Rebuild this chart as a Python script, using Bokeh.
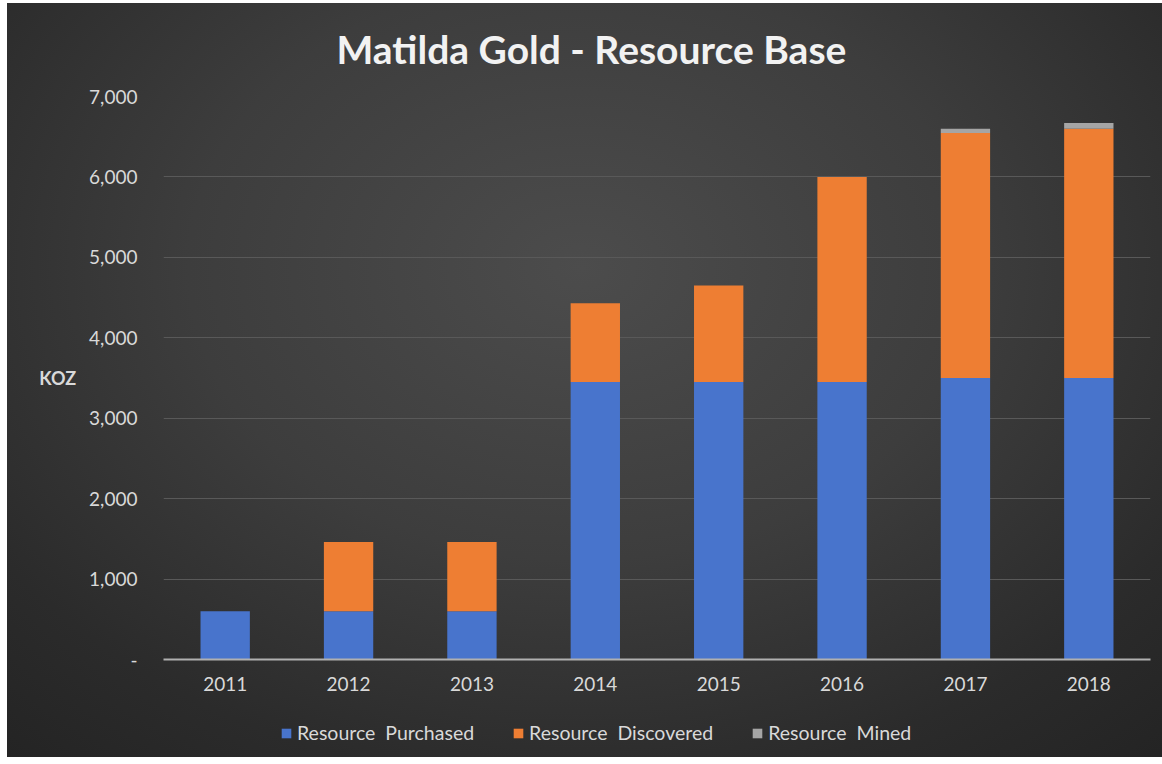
from bokeh.plotting import figure
from bokeh.layouts import column
from bokeh.models import (ColumnDataSource, Legend, LegendItem,
                          NumeralTickFormatter, FixedTicker)
from bokeh.embed import file_html
from bokeh.resources import INLINE

years = ["2011", "2012", "2013", "2014", "2015", "2016", "2017", "2018"]
purchased = [600, 600, 600, 3450, 3450, 3450, 3500, 3500]
discovered = [0, 860, 860, 980, 1200, 2550, 3045, 3100]
mined = [0, 0, 0, 0, 0, 0, 55, 70]
series = ["purchased", "discovered", "mined"]
series_labels = ["Resource  Purchased", "Resource  Discovered", "Resource  Mined"]
colors = ["#4874cc", "#ee7e33", "#a5a5a5"]
y_ticks = [0, 1000, 2000, 3000, 4000, 5000, 6000, 7000]
title_text = "Matilda Gold - Resource Base"
y_label = "KOZ"

FONT = "Lato"
TXT = "#d9d9d9"

source = ColumnDataSource(dict(year=years, purchased=purchased,
                               discovered=discovered, mined=mined))

# ---- main chart -------------------------------------------------------
p = figure(x_range=years, y_range=(0, 7000),
           frame_width=987, frame_height=563,
           output_backend="svg", toolbar_location=None,
           min_border_left=163, min_border_right=12,
           min_border_top=96, min_border_bottom=45)
p.border_fill_alpha = 0
p.background_fill_alpha = 0
p.outline_line_color = None

p.title.text = title_text
p.title.text_font = FONT
p.title.text_font_style = "bold"
p.title.text_font_size = "39px"
p.title.text_color = "#f2f2f2"
p.title.align = "left"
p.title.offset = 173
p.title.vertical_align = "top"
p.title.standoff = 46

p.vbar_stack(series, x="year", width=0.4, color=colors,
             line_color=None, source=source)

p.xgrid.grid_line_color = None
p.ygrid.grid_line_color = "#595959"
p.ygrid.grid_line_width = 1
p.ygrid.ticker = FixedTicker(ticks=y_ticks[1:])

ya = p.yaxis[0]
ya.ticker = FixedTicker(ticks=y_ticks)
ya.formatter = NumeralTickFormatter(format="0,0")
ya.major_label_overrides = {0: "-"}
ya.axis_line_color = None
ya.major_tick_line_color = None
ya.minor_tick_line_color = None
ya.major_label_text_color = TXT
ya.major_label_text_font = FONT
ya.major_label_text_font_size = "19px"
ya.major_label_standoff = 20
ya.axis_label = y_label
ya.axis_label_orientation = "horizontal"
ya.axis_label_text_font = FONT
ya.axis_label_text_font_style = "bold"
ya.axis_label_text_font_size = "18px"
ya.axis_label_text_color = TXT
ya.axis_label_standoff = 10

xa = p.xaxis[0]
xa.axis_line_color = "#b0b0b0"
xa.axis_line_width = 2
xa.major_tick_line_color = None
xa.minor_tick_line_color = None
xa.major_tick_out = 0
xa.major_tick_in = 0
xa.major_label_text_color = TXT
xa.major_label_text_font = FONT
xa.major_label_text_font_size = "19px"
xa.major_label_standoff = 17

# ---- legend strip -----------------------------------------------------
pl = figure(x_range=years, y_range=(0, 1), width=1162, height=60,
            output_backend="svg", toolbar_location=None,
            x_axis_location=None, y_axis_location=None,
            min_border=0)
pl.border_fill_alpha = 0
pl.background_fill_alpha = 0
pl.outline_line_color = None
pl.grid.visible = False
leg_renderers = pl.vbar_stack(series, x="year", width=0.4, color=colors,
                              line_color=None, source=source)
for r in leg_renderers:
    r.visible = False

legend = Legend(items=[LegendItem(label=l, renderers=[r])
                       for l, r in zip(series_labels, leg_renderers)],
                orientation="horizontal", location=(117, 20),
                background_fill_alpha=0, border_line_color=None,
                inactive_fill_alpha=0,
                label_text_color=TXT, label_text_font=FONT,
                label_text_font_size="19.5px", glyph_width=12, glyph_height=12,
                label_standoff=5, spacing=38, margin=0, padding=4)
pl.add_layout(legend, "center")

layout = column(p, pl, spacing=0)
layout.styles = {
    "background": ("linear-gradient(#ffffff,#ffffff) 0 0/100% 3px no-repeat, "
                   "linear-gradient(#ffffff,#ffffff) 0 0/7px 100% no-repeat, "
                   "linear-gradient(#ffffff,#ffffff) 0 100%/100% 7px no-repeat, "
                   "radial-gradient(ellipse 75% 85% at 50% 35%, #4c4c4c 0%, #3d3d3d 45%, #2b2b2b 80%, #242424 100%)")
}

open("out.html", "w").write(file_html(layout, INLINE))
